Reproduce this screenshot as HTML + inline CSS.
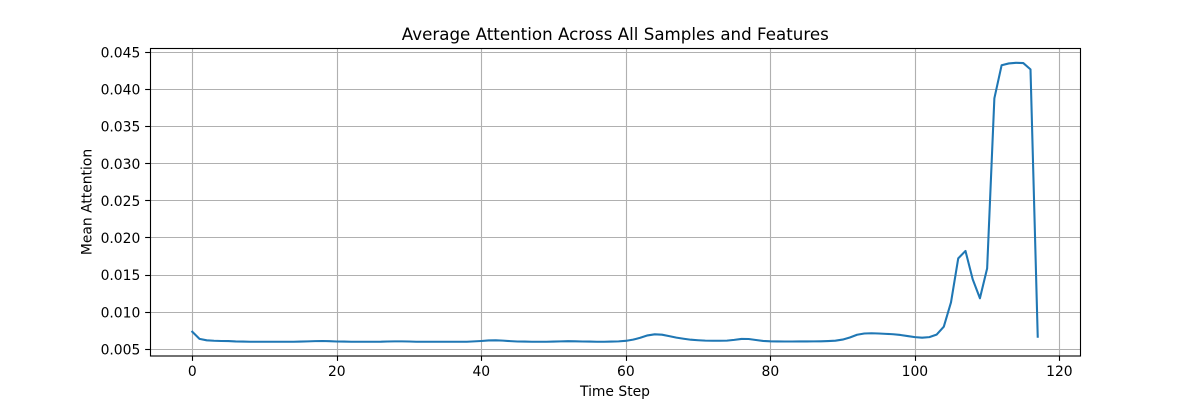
<!DOCTYPE html>
<html>
<head>
<meta charset="utf-8">
<title>Average Attention Across All Samples and Features</title>
<style>
html,body{margin:0;padding:0;background:#fff;width:1200px;height:400px;overflow:hidden}
svg{display:block}
text{font-family:"DejaVu Sans","Liberation Sans",sans-serif;fill:#000}
</style>
</head>
<body>
<svg id="chart" width="1200" height="400" viewBox="0 0 1200 400" xmlns="http://www.w3.org/2000/svg">
<rect x="0" y="0" width="1200" height="400" fill="#fff"/>
<text x="615.3" y="40" font-size="16.67" letter-spacing="0.02" text-anchor="middle">Average Attention Across All Samples and Features</text>
<text x="615" y="396" font-size="13.89" text-anchor="middle">Time Step</text>
<text x="0" y="0" font-size="13.89" text-anchor="middle" transform="translate(91.5,202) rotate(-90)">Mean Attention</text>
</svg>
<script>
const xTickValues = [0, 20, 40, 60, 80, 100, 120];
const yTickValues = [0.005, 0.010, 0.015, 0.020, 0.025, 0.030, 0.035, 0.040, 0.045];
const yTickLabels = ["0.005", "0.010", "0.015", "0.020", "0.025", "0.030", "0.035", "0.040", "0.045"];
const meanAttention = [
0.00737,0.00640,0.00621,0.00615,0.00612,0.00611,0.00606,0.00604,0.00602,0.00602,
0.00602,0.00602,0.00602,0.00602,0.00602,0.00604,0.00607,0.00610,0.00612,0.00609,
0.00605,0.00604,0.00602,0.00602,0.00602,0.00602,0.00602,0.00605,0.00607,0.00607,
0.00605,0.00602,0.00602,0.00602,0.00602,0.00602,0.00602,0.00602,0.00602,0.00607,
0.00612,0.00619,0.00621,0.00617,0.00610,0.00605,0.00604,0.00602,0.00602,0.00602,
0.00604,0.00607,0.00609,0.00608,0.00605,0.00604,0.00602,0.00602,0.00604,0.00607,
0.00614,0.00630,0.00655,0.00687,0.00702,0.00697,0.00677,0.00657,0.00642,0.00629,
0.00622,0.00617,0.00615,0.00615,0.00617,0.00627,0.00640,0.00639,0.00625,0.00613,
0.00608,0.00606,0.00605,0.00605,0.00606,0.00606,0.00607,0.00608,0.00611,0.00616,
0.00631,0.00659,0.00696,0.00713,0.00716,0.00713,0.00708,0.00703,0.00693,0.00678,
0.00664,0.00656,0.00664,0.00697,0.00805,0.01133,0.01725,0.01825,0.01443,0.01187,
0.0159,0.0388,0.04325,0.0435,0.04358,0.04355,0.0427,0.0067
];

const NS = 'http://www.w3.org/2000/svg';
const svg = document.getElementById('chart');
const plotLeft = 150, plotRight = 1080, plotTop = 48, plotBottom = 356;
const xMin = -5.85, xMax = 122.85;
const yAt005 = 349.3, yAt045 = 52.3;

function xScale(v) { return plotLeft + (v - xMin) / (xMax - xMin) * (plotRight - plotLeft); }
function yScale(v) { return yAt005 + (v - 0.005) / 0.04 * (yAt045 - yAt005); }
function snapX(p) { return Math.round(p) + 0.5; }
function snapY(p) { return Math.floor(p) + 0.5; }
function make(tag, attrs) {
  const el = document.createElementNS(NS, tag);
  for (const k in attrs) el.setAttribute(k, attrs[k]);
  return el;
}

xTickValues.forEach(function (t) {
  const x = snapX(xScale(t));
  const grid = make('line', {x1: x, x2: x, y1: plotTop, y2: plotBottom, stroke: '#b0b0b0', 'stroke-width': 1.11});
  
  
  svg.appendChild(grid);
});
yTickValues.forEach(function (t) {
  const y = snapY(yScale(t));
  const grid = make('line', {x1: plotLeft, x2: plotRight, y1: y, y2: y, stroke: '#b0b0b0', 'stroke-width': 1.11});
  
  
  svg.appendChild(grid);
});

const points = meanAttention.map(function (v, i) {
  return xScale(i).toFixed(2) + ',' + yScale(v).toFixed(2);
}).join(' ');
const series = make('polyline', {points: points, fill: 'none', stroke: '#1f77b4', 'stroke-width': 2.08, 'stroke-linejoin': 'round', 'stroke-linecap': 'square'});


svg.appendChild(series);

const frame = make('rect', {x: plotLeft + 0.5, y: plotTop + 0.5, width: plotRight - plotLeft, height: plotBottom - plotTop - 0.5, fill: 'none', stroke: '#000', 'stroke-width': 1.11});


svg.appendChild(frame);

xTickValues.forEach(function (t) {
  const x = snapX(xScale(t));
  const tick = make('line', {x1: x, x2: x, y1: plotBottom, y2: plotBottom + 4.86, stroke: '#000', 'stroke-width': 1.11});
  
  
  svg.appendChild(tick);
  const label = make('text', {x: xScale(t), y: 376, 'font-size': 13.89, 'text-anchor': 'middle'});
  
  
  label.textContent = String(t);
  svg.appendChild(label);
});
yTickValues.forEach(function (t, i) {
  const y = snapY(yScale(t));
  const tick = make('line', {x1: plotLeft - 4.86, x2: plotLeft, y1: y, y2: y, stroke: '#000', 'stroke-width': 1.11});
  
  
  svg.appendChild(tick);
  const label = make('text', {x: 140.3, y: yScale(t) + 5.1, 'font-size': 13.89, 'text-anchor': 'end'});
  
  
  label.textContent = yTickLabels[i];
  svg.appendChild(label);
});
</script>
</body>
</html>
